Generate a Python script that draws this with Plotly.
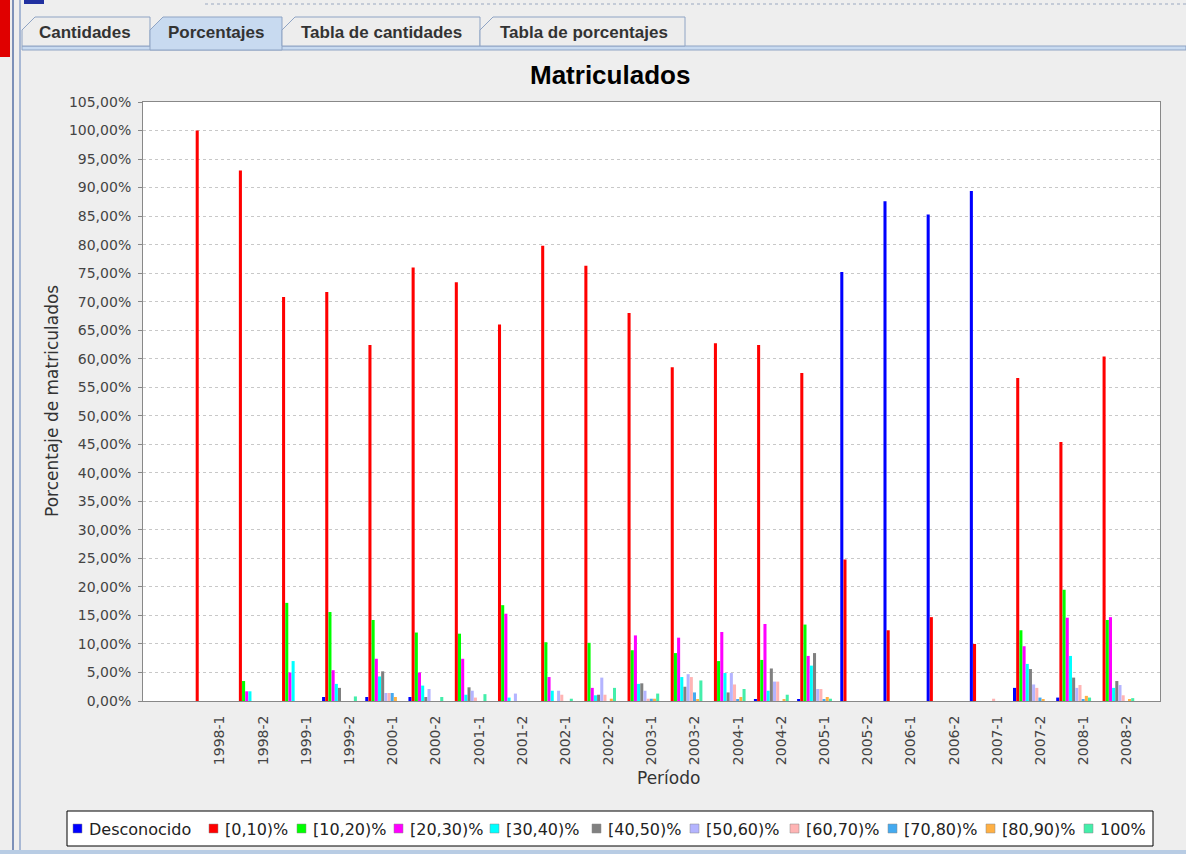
import plotly.graph_objects as go

periodos = ['1998-1', '1998-2', '1999-1', '1999-2', '2000-1', '2000-2', '2001-1', '2001-2',
            '2002-1', '2002-2', '2003-1', '2003-2', '2004-1', '2004-2', '2005-1', '2005-2',
            '2006-1', '2006-2', '2007-1', '2007-2', '2008-1', '2008-2']

desconocido = [0, 0, 0, 0.7, 0.7, 0.7, 0, 0, 0, 0, 0, 0, 0, 0.3, 0.3, 75.2, 87.6, 85.3, 89.4, 2.3, 0.6, 0]
r_0_10 = [100, 93.0, 70.8, 71.7, 62.4, 76.0, 73.4, 66.0, 79.8, 76.3, 68.0, 58.5, 62.7, 62.4, 57.5, 24.8,
          12.4, 14.7, 10.0, 56.6, 45.4, 60.4]
r_10_20 = [0, 3.5, 17.2, 15.6, 14.2, 12.0, 11.8, 16.8, 10.3, 10.2, 8.9, 8.4, 7.0, 7.2, 13.4, 0, 0, 0, 0,
           12.4, 19.5, 14.2]
r_20_30 = [0, 1.7, 5.0, 5.4, 7.4, 5.0, 7.4, 15.3, 4.2, 2.3, 11.5, 11.1, 12.1, 13.5, 7.9, 0, 0, 0, 0,
           9.6, 14.6, 14.7]
r_30_40 = [0, 1.7, 7.0, 3.0, 4.3, 2.7, 1.1, 0.6, 1.8, 1.0, 3.0, 4.2, 4.9, 1.8, 6.2, 0, 0, 0, 0,
           6.5, 7.9, 2.3]
r_40_50 = [0, 0, 0, 2.3, 5.2, 0.7, 2.4, 0, 0, 1.1, 3.1, 2.5, 1.5, 5.7, 8.4, 0, 0, 0, 0, 5.6, 4.1, 3.5]
r_50_60 = [0, 0, 0, 0, 1.4, 2.1, 1.8, 1.3, 1.8, 4.1, 1.8, 4.7, 4.9, 3.4, 2.1, 0, 0, 0, 0, 2.9, 2.3, 2.8]
r_60_70 = [0, 0, 0, 0, 1.4, 0, 0.6, 0, 1.1, 1.1, 0.4, 4.2, 2.9, 3.4, 2.1, 0, 0, 0, 0.4, 2.3, 2.8, 1.0]
r_70_80 = [0, 0, 0, 0, 1.4, 0, 0, 0, 0, 0, 0.4, 1.5, 0.2, 0, 0.3, 0, 0, 0, 0, 0.6, 0.2, 0]
r_80_90 = [0, 0, 0, 0, 0.7, 0, 0, 0, 0, 0.4, 0.4, 0.3, 0.7, 0.3, 0.7, 0, 0, 0, 0, 0.2, 0.9, 0.2]
r_100 = [0, 0, 0, 0.8, 0, 0.7, 1.2, 0, 0.4, 2.3, 1.3, 3.6, 2.1, 1.1, 0.4, 0, 0, 0, 0, 0, 0.6, 0.5]

series = [('Desconocido', desconocido, '#0000FF'),
          ('[0,10)%', r_0_10, '#FF0000'),
          ('[10,20)%', r_10_20, '#00FF00'),
          ('[20,30)%', r_20_30, '#FF00FF'),
          ('[30,40)%', r_30_40, '#00FFFF'),
          ('[40,50)%', r_40_50, '#808080'),
          ('[50,60)%', r_50_60, '#B4B4FF'),
          ('[60,70)%', r_60_70, '#FFB4B4'),
          ('[70,80)%', r_70_80, '#44AAF0'),
          ('[80,90)%', r_80_90, '#FFB044'),
          ('100%', r_100, '#44EEAA')]

W, H = 1186, 854
L, R, T, B = 143, 26, 102, 153
pw, ph = W - L - R, H - T - B


def px(x):
    return (x - L) / pw


def py(y):
    return (H - B - y) / ph


xs = list(range(len(periodos)))

fig = go.Figure()
for nombre, vals, col in series:
    fig.add_trace(go.Bar(x=xs, y=vals, name=nombre, marker_color=col, marker_line_width=0))

font = 'DejaVu Sans'
fig.update_layout(
    width=W, height=H, separators=',.',
    margin=dict(l=L, r=R, t=T, b=B, autoexpand=False),
    paper_bgcolor='#EEEEEE', plot_bgcolor='white',
    barmode='group', bargap=0.19, bargroupgap=0.04,
    font=dict(family=font, size=14, color='#444444'),
    showlegend=False,
)
fig.update_xaxes(range=[-1.55, 22.0], tickvals=[i + 0.23 for i in xs], ticktext=periodos,
                 tickangle=-90, ticks='outside', ticklen=8, tickcolor='rgba(0,0,0,0)',
                 showgrid=False, zeroline=False, showline=True, linecolor='#888888',
                 linewidth=1, mirror=True, tickfont=dict(size=14, color='#444444'))
fig.update_yaxes(range=[0, 105], dtick=5, tickformat='.2f', ticksuffix='%',
                 ticks='outside', ticklen=4, tickcolor='#888888', ticklabelstandoff=4,
                 showgrid=True, gridcolor='#C8C8C8', griddash='3px,3px', zeroline=False,
                 showline=True, linecolor='#888888', linewidth=1, mirror=True,
                 tickfont=dict(size=14, color='#444444'))

anns = [
    dict(text='<b>Matriculados</b>', x=px(610), y=py(75), font=dict(family='Liberation Sans', size=26, color='black')),
    dict(text='Porcentaje de matriculados', x=px(52), y=py(401), textangle=-90,
         font=dict(family=font, size=17, color='#333333')),
    dict(text='Período', x=px(668), y=py(778), font=dict(family=font, size=17, color='#333333')),
]
for a in anns:
    fig.add_annotation(xref='paper', yref='paper', showarrow=False, xanchor='center', yanchor='middle', **a)

shapes = []


def rect(x0, y0, x1, y1, fill, line=None):
    shapes.append(dict(type='rect', xref='paper', yref='paper', x0=px(x0), x1=px(x1), y0=py(y1), y1=py(y0),
                       fillcolor=fill, line=line or dict(width=0), layer='above'))


def hline(x0, x1, y, color, width=1, dash='solid'):
    shapes.append(dict(type='line', xref='paper', yref='paper', x0=px(x0), x1=px(x1), y0=py(y), y1=py(y),
                       line=dict(color=color, width=width, dash=dash)))


def vline(x, y0, y1, color, width=1):
    shapes.append(dict(type='line', xref='paper', yref='paper', x0=px(x), x1=px(x), y0=py(y0), y1=py(y1),
                       line=dict(color=color, width=width)))


# restos de otras ventanas y marco
rect(0, 0, 10, 57, '#E00000')
rect(24, 0, 44, 4, '#2030A0')
hline(205, 1186, 4, '#9AA8C0', 1, 'dot')
vline(13, 0, 854, '#7C90B8', 2)
vline(20, 0, 854, '#A8B8D4', 2)
rect(0, 850, 1186, 854, '#B8CCE4')

# pestanas
rect(22, 46, 1186, 50, '#C8DAF0', dict(color='#8FA4C4', width=1))
tabs = [('Cantidades', 22, 150, 85, False), ('Porcentajes', 150, 282, 216, True),
        ('Tabla de cantidades', 282, 480, 381, False), ('Tabla de porcentajes', 480, 685, 584, False)]
for txt, x0, x1, xc, sel in tabs:
    yb = 50 if sel else 46
    path = (f'M {px(x0)} {py(yb)} L {px(x0)} {py(30)} L {px(x0 + 13)} {py(17)} '
            f'L {px(x1)} {py(17)} L {px(x1)} {py(yb)} Z')
    shapes.append(dict(type='path', xref='paper', yref='paper', path=path,
                       fillcolor='#C8DAF0' if sel else '#EDEDED', line=dict(color='#8FA4C4', width=1)))
    fig.add_annotation(xref='paper', yref='paper', showarrow=False, x=px(xc), y=py(32),
                       xanchor='center', yanchor='middle', text=f'<b>{txt}</b>',
                       font=dict(family='Liberation Sans', size=17, color='#333333'))

# leyenda
rect(67, 811, 1153, 846, 'white', dict(color='black', width=1))
ley_x = [73, 209, 297, 394, 490, 592, 690, 790, 888, 986, 1084]
for (nombre, vals, col), lx in zip(series, ley_x):
    rect(lx, 824, lx + 9, 833, col, dict(color='#888888', width=0.5))
    fig.add_annotation(xref='paper', yref='paper', showarrow=False, x=px(lx + 14), y=py(829),
                       xanchor='left', yanchor='middle', text=nombre,
                       font=dict(family=font, size=16, color='#222222'))

fig.update_layout(shapes=shapes)

fig.write_html("out.html", config={'displayModeBar': False},
               post_script="document.body.style.margin='0';")
